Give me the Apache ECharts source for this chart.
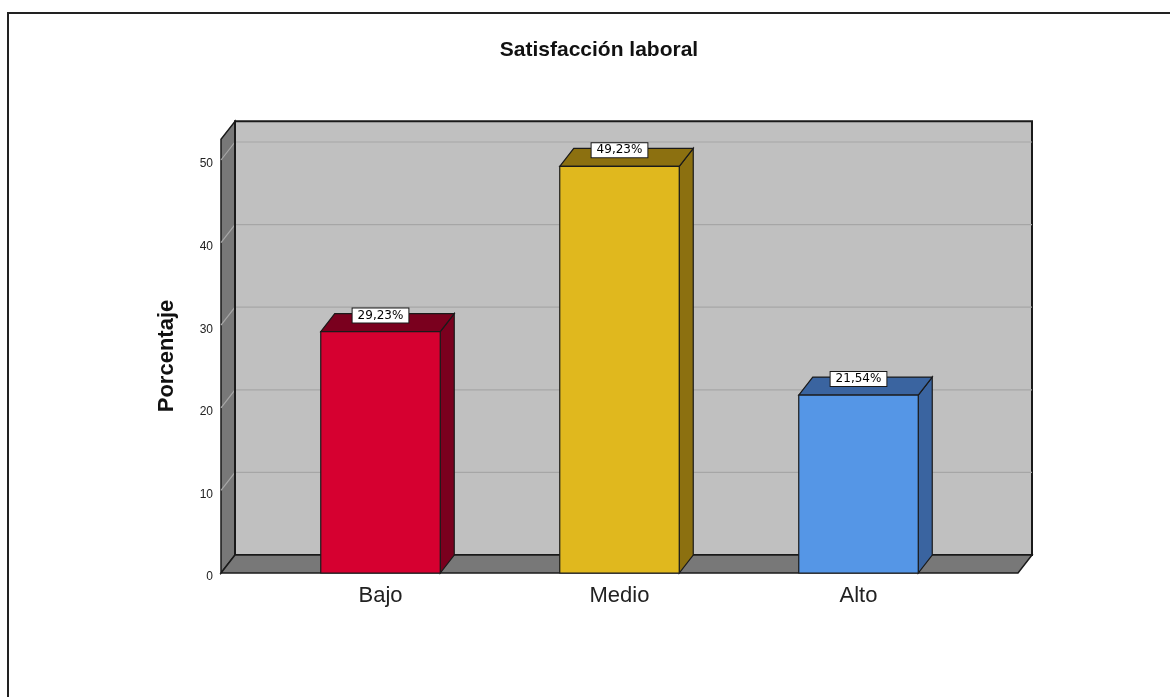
<!DOCTYPE html>
<html>
<head>
<meta charset="utf-8">
<title>Satisfacción laboral</title>
<script src="https://cdn.jsdelivr.net/npm/echarts@6/dist/echarts.min.js"></script>
<style>
  html, body { margin: 0; padding: 0; background: #fff; }
  #chart { width: 1170px; height: 697px; }
</style>
</head>
<body>
<div id="chart"></div>
<script>
// Categories and percentages
const categories = ['Bajo', 'Medio', 'Alto'];
const percentages = [29.23, 49.23, 21.54];
const yTicks = [0, 10, 20, 30, 40, 50];

// Front face / side-top colours per bar
const frontColors = ['#d60030', '#e0b81e', '#5596e6'];
const shadeColors = ['#7a001e', '#8c7010', '#3a64a0'];

// Pseudo-3D depth offsets (pixels) and box geometry
const DX = 14, DY = -18;
const BOX_PAD = 40;       // box extends this far beyond the category band
const WALL_TOP = 52.5;    // wall height in axis units
const FONT = '"Liberation Sans", Arial, sans-serif';
const LABEL_FONT = '"DejaVu Sans", Verdana, sans-serif';

const chart = echarts.init(document.getElementById('chart'));

function fmt(v) { return v.toFixed(2).replace('.', ',') + '%'; }

// Back wall, left wall, floor and gridlines
function renderBox(params, api) {
  const cs = params.coordSys;
  const xl = cs.x - BOX_PAD;
  const xr = cs.x + cs.width + BOX_PAD;
  const y0 = api.coord([0, 0])[1];
  const yt = api.coord([0, WALL_TOP])[1];
  const children = [];
  // back wall
  children.push({
    type: 'rect',
    shape: { x: xl + DX, y: yt + DY, width: xr - xl, height: y0 - yt },
    style: { fill: '#c0c0c0', stroke: '#1a1a1a', lineWidth: 2 }
  });
  // left wall
  children.push({
    type: 'polygon',
    shape: { points: [[xl, y0], [xl, yt], [xl + DX, yt + DY], [xl + DX, y0 + DY]] },
    style: { fill: '#787878', stroke: '#1a1a1a', lineWidth: 1.5 }
  });
  // gridlines on walls
  yTicks.forEach(function (t) {
    if (t === 0) return;
    const y = api.coord([0, t])[1];
    children.push({
      type: 'polyline',
      shape: { points: [[xl, y], [xl + DX, y + DY], [xr + DX, y + DY]] },
      style: { stroke: '#a6a6a6', lineWidth: 1.2, fill: null }
    });
  });
  // wall corner edge over gridlines
  children.push({
    type: 'line',
    shape: { x1: xl + DX, y1: yt + DY, x2: xl + DX, y2: y0 + DY },
    style: { stroke: '#1a1a1a', lineWidth: 2 }
  });
  // floor
  children.push({
    type: 'polygon',
    shape: { points: [[xl, y0], [xr, y0], [xr + DX, y0 + DY], [xl + DX, y0 + DY]] },
    style: { fill: '#787878', stroke: '#1a1a1a', lineWidth: 1.5 }
  });
  return { type: 'group', children: children };
}

// 3D bars with value labels
function renderBar(params, api) {
  const idx = api.value(0);
  const val = api.value(1);
  const top = api.coord([idx, val]);
  const base = api.coord([idx, 0]);
  const w = api.size([1, 0])[0] * 0.5;
  const x0 = top[0] - w / 2, x1 = top[0] + w / 2;
  const yt = top[1], yb = base[1];
  const i = params.dataIndex;
  const edge = { stroke: '#1a1a1a', lineWidth: 1.2 };
  return {
    type: 'group',
    children: [
      {
        type: 'polygon',
        shape: { points: [[x1, yb], [x1, yt], [x1 + DX, yt + DY], [x1 + DX, yb + DY]] },
        style: Object.assign({ fill: shadeColors[i] }, edge)
      },
      {
        type: 'polygon',
        shape: { points: [[x0, yt], [x1, yt], [x1 + DX, yt + DY], [x0 + DX, yt + DY]] },
        style: Object.assign({ fill: shadeColors[i] }, edge)
      },
      {
        type: 'rect',
        shape: { x: x0, y: yt, width: x1 - x0, height: yb - yt },
        style: Object.assign({ fill: frontColors[i] }, edge)
      },
      {
        type: 'text',
        x: top[0],
        y: yt - 9,
        style: {
          text: fmt(val),
          align: 'center',
          verticalAlign: 'bottom',
          fill: '#000',
          font: '12px ' + LABEL_FONT,
          backgroundColor: '#fff',
          borderColor: '#1a1a1a',
          borderWidth: 1,
          padding: [1, 5, 1, 5]
        }
      }
    ]
  };
}

const option = {
  animation: false,
  backgroundColor: '#fff',
  title: {
    text: 'Satisfacción laboral',
    left: 594,
    textAlign: 'center',
    top: 35,
    textStyle: { fontFamily: FONT, fontSize: 21, fontWeight: 'bold', color: '#111' }
  },
  graphic: [
    {
      type: 'rect',
      z: -10,
      shape: { x: 8, y: 13, width: 1300, height: 800 },
      style: { fill: null, stroke: '#222', lineWidth: 2 }
    },
    {
      type: 'text',
      x: 167,
      y: 356,
      rotation: Math.PI / 2,
      style: {
        text: 'Porcentaje',
        align: 'center',
        verticalAlign: 'middle',
        fill: '#111',
        font: 'bold 22px ' + FONT
      }
    }
  ],
  grid: { left: 261, right: 192, top: 160, bottom: 124 },
  xAxis: {
    type: 'category',
    data: categories,
    axisLine: { show: false },
    axisTick: { show: false },
    axisLabel: { margin: 12, fontSize: 22, color: '#222', fontFamily: FONT }
  },
  yAxis: {
    type: 'value',
    min: yTicks[0],
    max: yTicks[yTicks.length - 1],
    interval: yTicks[1] - yTicks[0],
    axisLine: { show: false },
    axisTick: { show: false },
    splitLine: { show: false },
    axisLabel: {
      margin: 48, fontSize: 12, color: '#222', fontFamily: FONT,
      verticalAlign: 'top', lineHeight: 8
    }
  },
  series: [
    {
      type: 'custom',
      clip: false,
      z: 1,
      renderItem: renderBox,
      data: [[0, 0]],
      silent: true
    },
    {
      type: 'custom',
      clip: false,
      z: 2,
      renderItem: renderBar,
      encode: { x: 0, y: 1 },
      data: percentages.map(function (v, i) { return [i, v]; })
    }
  ]
};

chart.setOption(option);
</script>
</body>
</html>
